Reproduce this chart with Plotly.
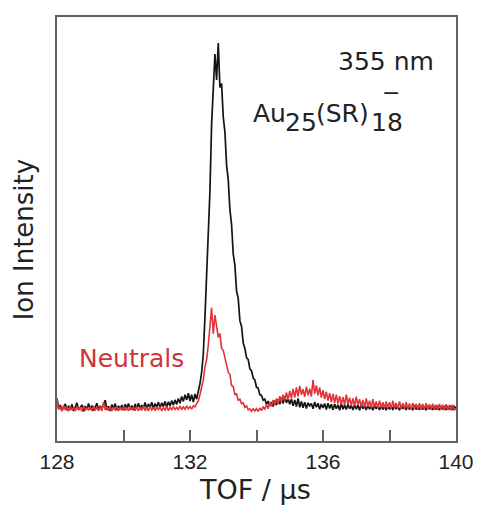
import plotly.graph_objects as go

# TOF axis (µs), 0.05 µs steps from 128 to 140
tof = [round(128 + 0.05 * i, 2) for i in range(241)]

# Au25(SR)18- anion signal (black)
anion = [
    0.04, 0.012, 0.022, 0.006, 0.018, 0.025, 0.008, 0.02, 0.01, 0.024, 0.006, 0.017, 0.028, 0.009, 0.015, 0.022, 0.005, 0.019, 0.011, 0.026,
    0.01, 0.021, 0.007, 0.018, 0.027, 0.008, 0.02, 0.012, 0.024, 0.035, 0.009, 0.019, 0.006, 0.023, 0.013, 0.026, 0.008, 0.02, 0.011, 0.022,
    0.009, 0.024, 0.013, 0.026, 0.01, 0.021, 0.008, 0.025, 0.012, 0.027, 0.011, 0.022, 0.014, 0.029, 0.012, 0.025, 0.015, 0.03, 0.013, 0.026,
    0.016, 0.03, 0.014, 0.028, 0.018, 0.032, 0.016, 0.031, 0.02, 0.034, 0.022, 0.036, 0.024, 0.04, 0.027, 0.045, 0.032, 0.05, 0.036, 0.054,
    0.033, 0.05, 0.03, 0.052, 0.038, 0.055, 0.08, 0.11, 0.16, 0.26, 0.36, 0.47, 0.60, 0.78, 0.86, 0.97, 0.90, 1.0, 0.88, 0.89,
    0.80, 0.76, 0.67, 0.63, 0.55, 0.51, 0.43, 0.40, 0.33, 0.31, 0.25, 0.235, 0.19, 0.175, 0.15, 0.145, 0.12, 0.115, 0.095, 0.09,
    0.07, 0.068, 0.05, 0.048, 0.035, 0.038, 0.024, 0.033, 0.02, 0.03, 0.018, 0.034, 0.022, 0.038, 0.024, 0.042, 0.026, 0.045, 0.028, 0.04,
    0.024, 0.038, 0.02, 0.036, 0.018, 0.04, 0.016, 0.032, 0.015, 0.03, 0.013, 0.028, 0.02, 0.026, 0.012, 0.03, 0.016, 0.027, 0.011, 0.025,
    0.014, 0.026, 0.01, 0.027, 0.013, 0.024, 0.009, 0.025, 0.012, 0.023, 0.008, 0.026, 0.011, 0.022, 0.01, 0.024, 0.012, 0.021, 0.009, 0.023,
    0.011, 0.022, 0.008, 0.024, 0.012, 0.02, 0.009, 0.023, 0.011, 0.019, 0.008, 0.022, 0.012, 0.02, 0.009, 0.021, 0.01, 0.019, 0.008, 0.022,
    0.01, 0.02, 0.009, 0.022, 0.011, 0.018, 0.008, 0.021, 0.012, 0.019, 0.009, 0.02, 0.01, 0.018, 0.008, 0.022, 0.01, 0.019, 0.009, 0.02,
    0.01, 0.018, 0.008, 0.02, 0.011, 0.019, 0.009, 0.017, 0.01, 0.02, 0.008, 0.018, 0.012, 0.019, 0.009, 0.017, 0.01, 0.02, 0.009, 0.018,
    0.012,
]

# Neutral signal (red)
neutrals = [
    0.038, 0.01, 0.018, 0.006, 0.02, 0.009, 0.016, 0.005, 0.019, 0.008, 0.015, 0.006, 0.018, 0.01, 0.016, 0.005, 0.02, 0.008, 0.014, 0.009,
    0.017, 0.006, 0.019, 0.009, 0.015, 0.007, 0.018, 0.006, 0.03, 0.009, 0.016, 0.007, 0.019, 0.006, 0.015, 0.009, 0.018, 0.006, 0.016, 0.008,
    0.018, 0.007, 0.015, 0.006, 0.019, 0.009, 0.016, 0.007, 0.018, 0.006, 0.015, 0.009, 0.019, 0.007, 0.016, 0.006, 0.018, 0.009, 0.015, 0.007,
    0.017, 0.009, 0.018, 0.006, 0.015, 0.009, 0.019, 0.007, 0.016, 0.01, 0.018, 0.009, 0.016, 0.01, 0.019, 0.01, 0.017, 0.011, 0.02, 0.012,
    0.018, 0.011, 0.02, 0.017, 0.026, 0.033, 0.05, 0.07, 0.09, 0.125, 0.145, 0.185, 0.235, 0.285, 0.215, 0.265, 0.235, 0.205, 0.215, 0.175,
    0.17, 0.15, 0.135, 0.11, 0.105, 0.075, 0.072, 0.05, 0.052, 0.035, 0.038, 0.026, 0.028, 0.016, 0.02, 0.009, 0.012, 0.005, 0.012, 0.006,
    0.012, 0.005, 0.014, 0.007, 0.018, 0.01, 0.024, 0.012, 0.03, 0.018, 0.036, 0.022, 0.04, 0.026, 0.046, 0.03, 0.05, 0.034, 0.056, 0.036,
    0.06, 0.04, 0.066, 0.042, 0.07, 0.045, 0.074, 0.05, 0.065, 0.044, 0.072, 0.048, 0.066, 0.045, 0.09, 0.052, 0.075, 0.048, 0.07, 0.042,
    0.062, 0.038, 0.058, 0.034, 0.054, 0.03, 0.052, 0.028, 0.05, 0.026, 0.046, 0.024, 0.044, 0.022, 0.05, 0.024, 0.042, 0.02, 0.04, 0.019,
    0.045, 0.022, 0.038, 0.018, 0.036, 0.016, 0.04, 0.018, 0.034, 0.015, 0.038, 0.016, 0.032, 0.014, 0.034, 0.015, 0.03, 0.013, 0.032, 0.014,
    0.03, 0.013, 0.034, 0.014, 0.028, 0.012, 0.032, 0.013, 0.027, 0.011, 0.03, 0.012, 0.026, 0.011, 0.028, 0.012, 0.025, 0.01, 0.027, 0.011,
    0.025, 0.01, 0.027, 0.011, 0.024, 0.009, 0.026, 0.01, 0.023, 0.009, 0.025, 0.01, 0.023, 0.008, 0.024, 0.009, 0.022, 0.008, 0.023, 0.009,
    0.012,
]

tick_vals = [128, 130, 132, 134, 136, 138, 140]
tick_text = ["128", "", "132", "", "136", "", "140"]

fig = go.Figure()
fig.add_trace(go.Scatter(x=tof, y=anion, mode="lines",
                         line=dict(color="#141414", width=1.7), showlegend=False))
fig.add_trace(go.Scatter(x=tof, y=neutrals, mode="lines",
                         line=dict(color="#e0343a", width=1.6), showlegend=False))

axcol = "#626262"
txt = "#222222"
big = "DejaVu Sans"


def note(text, x, y, size, xanchor="left", color=txt, angle=0):
    return dict(text=text, xref="paper", yref="paper", x=x, y=y, textangle=angle,
                showarrow=False, xanchor=xanchor, yanchor="middle",
                font=dict(family=big, size=size, color=color))


fig.update_layout(
    width=473, height=499,
    margin=dict(l=49, r=21, t=7, b=66),
    plot_bgcolor="white", paper_bgcolor="white",
    font=dict(family="Liberation Sans, Arial, sans-serif", color=txt),
    xaxis=dict(range=[128, 140], tickvals=tick_vals, ticktext=tick_text,
               ticks="inside", ticklen=11, tickwidth=1.5, tickcolor=axcol,
               showline=True, linecolor=axcol, linewidth=1.8, mirror=True,
               showgrid=False, zeroline=False,
               tickfont=dict(size=21, color=txt), ticklabelstandoff=1),
    yaxis=dict(range=[-0.075, 1.07], showticklabels=False, ticks="",
               showline=True, linecolor=axcol, linewidth=1.8, mirror=True,
               showgrid=False, zeroline=False),
    annotations=[
        note("TOF / µs", 0.496, -0.115, 27, xanchor="center"),
        note("Ion Intensity", -0.082, 0.474, 26, xanchor="center", angle=-90),
        note("355 nm", 0.95, 0.894, 25, xanchor="right"),
        note("Au", 0.486, 0.7735, 25),
        note("25", 0.566, 0.751, 25),
        note("(SR)", 0.643, 0.7735, 25),
        note("18", 0.782, 0.751, 25),
        note("−", 0.838, 0.822, 22, xanchor="center"),
        note("Neutrals", 0.05, 0.195, 25, color="#d0343c"),
    ],
)

fig.write_html("out.html")
